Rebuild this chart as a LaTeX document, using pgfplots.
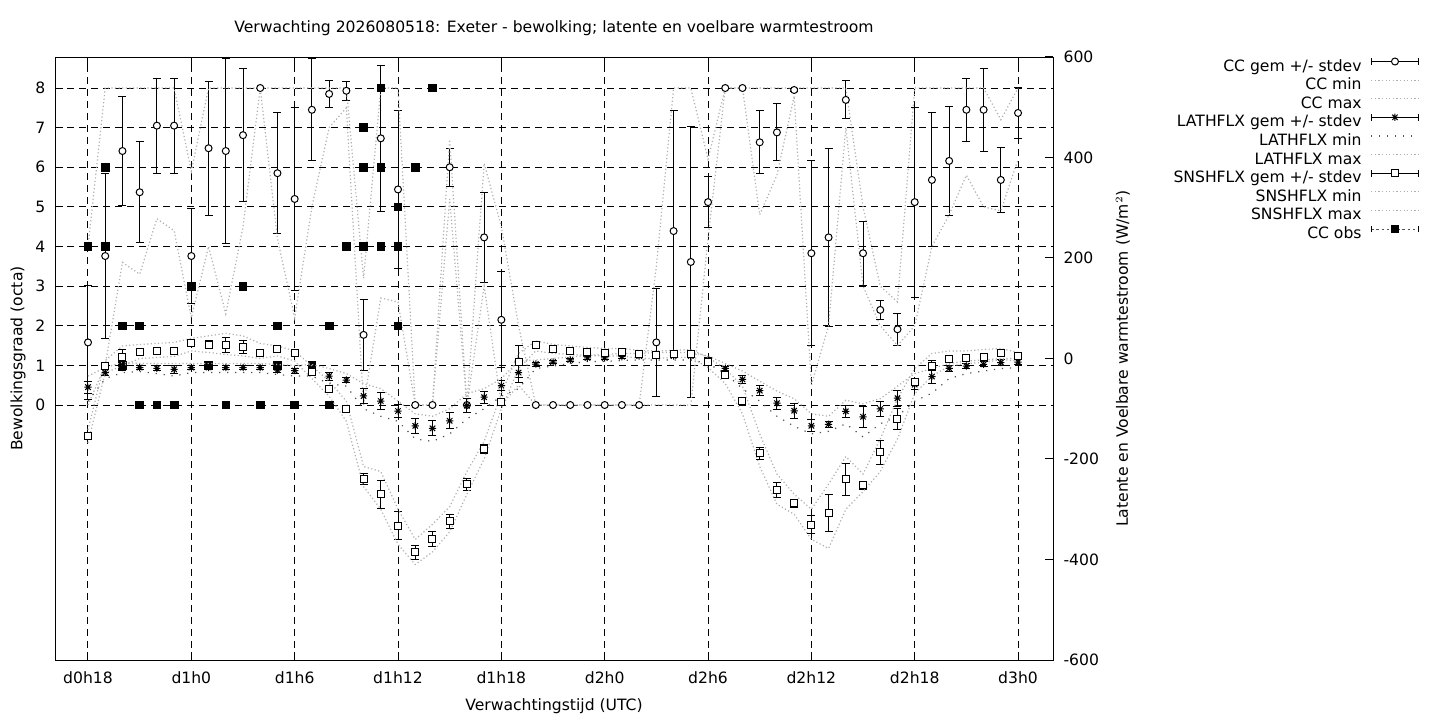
\documentclass[border=0pt]{standalone}
\usepackage{fontspec}
\setmainfont{DejaVu Sans}
\usepackage{pgfplots}
\usepackage{pgfplotstable}
\pgfplotsset{compat=1.18}

\definecolor{lgrey}{RGB}{175,175,175}
\definecolor{dgrey}{RGB}{80,80,80}

% gnuplot style asterisk: + and x on top of each other
\pgfdeclareplotmark{gpast}{%
  \pgfpathmoveto{\pgfqpoint{-\pgfplotmarksize}{0pt}}\pgfpathlineto{\pgfqpoint{\pgfplotmarksize}{0pt}}%
  \pgfpathmoveto{\pgfqpoint{0pt}{-\pgfplotmarksize}}\pgfpathlineto{\pgfqpoint{0pt}{\pgfplotmarksize}}%
  \pgfpathmoveto{\pgfqpoint{-.75\pgfplotmarksize}{-.75\pgfplotmarksize}}\pgfpathlineto{\pgfqpoint{.75\pgfplotmarksize}{.75\pgfplotmarksize}}%
  \pgfpathmoveto{\pgfqpoint{-.75\pgfplotmarksize}{.75\pgfplotmarksize}}\pgfpathlineto{\pgfqpoint{.75\pgfplotmarksize}{-.75\pgfplotmarksize}}%
  \pgfusepathqstroke}

% hour after d0h18, cloud cover mean, stdev, min, max (octa)
\pgfplotstableread{
h  cc   ccsd ccmin ccmax
0  1.58 1.44 0   4
1  3.76 2.09 1   8
2  6.41 1.37 3.6 8
3  5.37 1.27 3.3 8
4  7.05 1.20 4.7 8
5  7.05 1.20 4.4 8
6  3.76 1.20 2.2 5.9
7  6.48 1.69 4.0 8
8  6.41 2.33 2.3 8
9  6.81 1.68 4.5 8
10 8.00 0    8   8
11 5.85 1.52 4.2 8
12 5.20 2.32 2.2 8
13 7.45 1.29 5.0 8
14 7.85 0.33 7.0 8
15 7.93 0.24 7.5 8
16 1.77 0.89 0   3.2
17 6.73 1.85 2.7 8
18 5.44 2.00 2.6 8
19 0    0    0   0
20 0    0    0   0
21 6.00 0.48 5.2 6.7
22 0    0    0   0
23 4.23 1.13 3.0 6.1
24 2.15 1.21 0   4.5
25 1.10 0.40 0.5 2.0
26 0    0    0   0
27 0    0    0   0
28 0    0    0   0
29 0    0    0   0
30 0    0    0   0
31 0    0    0   0
32 0    0    0   0
33 1.58 1.36 0   3.5
34 4.39 3.04 0   8
35 3.61 3.42 0   8
36 5.12 0.64 4.2 6.2
37 8.00 0    8   8
38 8.00 0    8   8
39 6.63 0.79 4.8 8
40 6.88 0.72 5.8 8
41 7.95 0.05 7.8 8
42 3.83 2.33 0.5 8
43 4.23 2.24 2.0 8
44 7.70 0.48 7.0 8
45 3.83 0.81 3.0 5.0
46 2.40 0.25 2.0 3.0
47 1.91 0.40 1.5 2.6
48 5.12 2.40 2.0 8
49 5.68 1.69 4.0 8
50 6.16 1.37 4.8 8
51 7.45 0.80 5.8 8
52 7.45 1.04 5.0 8
53 5.68 0.81 4.9 7.2
54 7.37 0.64 6.2 8
}\cctab

% latent (lh) and sensible (sh) heat flux, W/m2
\pgfplotstableread{
h  lh     lhsd lhmin lhmax sh     shsd shmin shmax
0  -57    12   -85   -35   -155   6    -168  -142
1  -28    6    -40   -18   -14    5    -28   -4
2  -18    5    -28   -8    3.6    15   -15   25
3  -18    4    -26   -10   13.5   5    0     28
4  -19.6  5    -30   -10   15     4    2     30
5  -21.5  8    -35   -10   15     4    4     32
6  -18    4    -28   -10   31     4    15    40
7  -18    4    -28   -10   27.5   8.5  12    45
8  -18    4    -28   -10   27.5   14.6 8     50
9  -18    4    -28   -10   23.5   13   5     45
10 -18    4    -28   -10   10.3   4    0     30
11 -23    5    -32   -12   19.5   5    5     25
12 -24    5    -35   -14   10     4    -5    15
13 -22    5    -35   -12   -27.5  4    -40   -15
14 -35    8    -50   -20   -60.7  4    -75   -45
15 -43    5    -55   -30   -100.5 5    -125  -85
16 -74.6  14   -100  -50   -240   11   -255  -215
17 -84.6  16   -115  -60   -270   28   -300  -225
18 -104.5 12   -125  -85   -333   28   -370  -300
19 -134   15   -160  -110  -386   14   -410  -360
20 -139   15   -165  -115  -360   15   -385  -330
21 -124   16   -150  -100  -324   14   -345  -295
22 -94    14   -120  -70   -250   12   -270  -225
23 -77    12   -100  -60   -181   9    -200  -165
24 -54    10   -75   -40   -86.6  5    -100  -70
25 -28    20   -60   -5    -6     5    -20   10
26 -11    4    -20   -3    26     4    15    35
27 -7     3    -15   0     18     3    10    28
28 -3     3    -10   3     15     3    8     25
29 1      3    -6    6     13     3    6     22
30 1      3    -6    8     11     3    5     20
31 3.6    3    -4    10    12     3    5     20
32 5      3    -3    10    8      3    0     16
33 5      3    -3    12    7      3    0     15
34 5      3    -3    12    9      3    2     16
35 5      3    -3    12    9      3    2     18
36 -3     4    -10   5     -7     4    -18   2
37 -19.6  4    -30   -10   -33    4    -50   -20
38 -41.5  8    -60   -25   -85    4    -110  -55
39 -64    10   -85   -45   -189   12   -215  -150
40 -89    12   -115  -65   -262   15   -290  -230
41 -104   15   -135  -80   -288   8    -310  -270
42 -134   12   -150  -110  -331   18   -360  -300
43 -131   6    -145  -115  -308   37   -378  -250
44 -105   12   -130  -83   -240   32   -300  -195
45 -116   21   -156  -90   -252   8    -265  -230
46 -100.5 14   -130  -80   -187   23   -225  -160
47 -79    16   -115  -55   -120   21   -160  -80
48 -52    10   -85   -30   -47    6    -70   -20
49 -36    13   -69   -20   -14    10   -35   10
50 -19.6  6    -40   -10   -1     4    -15   15
51 -15    5    -30   -5    0      4    -10   15
52 -11.7  5    -25   -3    3.6    4    -8    18
53 -8     5    -20   0     10     4    -2    20
54 -7     5    -18   0     4      4    -5    12
}\fluxtab

% observed cloud cover (octa)
\pgfplotstableread{
h  obs
0  4
1  6
1  4
2  2
2  1
3  2
3  0
4  0
5  0
6  3
7  1
8  0
9  3
10 0
11 2
11 1
12 0
13 1
14 2
14 0
15 4
16 7
16 6
16 4
17 8
17 6
17 4
18 5
18 4
18 2
19 6
20 8
}\obstab

\pgfplotsset{
  gemplot/.style={only marks, black, line width=0.5bp,
    error bars/y dir=both, error bars/y explicit,
    error bars/error bar style={black, line width=0.5bp},
    error bars/error mark options={rotate=90, black, line width=0.5bp, mark size=2bp}},
  minmax/.style={no marks, lgrey, line width=0.6bp, dash pattern=on 0.6bp off 1.2bp},
}

\newcommand{\gemleg}[2]{%
  \draw[black,line width=0.5bp] (0bp,2.6bp)--(23.8bp,2.6bp) (0bp,0.9bp)--(0bp,4.3bp) (23.8bp,0.9bp)--(23.8bp,4.3bp);
  \draw[black,line width=0.5bp] plot[mark=#1, mark size=#2, mark options={fill=white}] coordinates {(11.9bp,2.6bp)};}
\newcommand{\lineleg}[2]{\draw[#1,line width=0.6bp,dash pattern=#2] (0bp,2.6bp)--(23.8bp,2.6bp);}

\begin{document}
\fontsize{7.8bp}{9.4bp}\selectfont
\begin{tikzpicture}
\useasboundingbox (0,0) rectangle (720bp,360bp);

\begin{axis}[
  at={(27.5bp,30bp)}, anchor=south west,
  width=499bp, height=301.5bp, scale only axis,
  xmin=-1.916, xmax=56.03, ymin=-6.435, ymax=8.782,
  xtick={0,6,...,54},
  xticklabels={d0h18,d1h0,d1h6,d1h12,d1h18,d2h0,d2h6,d2h12,d2h18,d3h0},
  ytick={0,1,...,8},
  ytick pos=left,
  tick align=inside, major tick length=4bp,
  tick style={black, line width=0.5bp},
  axis line style={line width=0.5bp},
  grid=major,
  major grid style={black, line width=0.5bp, dash pattern=on 3.5bp off 2.5bp},
  /pgf/number format/assume math mode=true,
  xticklabel style={yshift=-3bp},
  yticklabel style={xshift=-2bp},
  every axis title shift=0pt,
  title={Verwachting 2026080518: Exeter - bewolking; latente en voelbare warmtestroom},
  title style={at={(axis description cs:0.5,1.048)}, anchor=center, inner sep=0pt},
  xlabel={Verwachtingstijd (UTC)},
  xlabel style={at={(axis description cs:0.5,-0.0763)}, anchor=center, inner sep=0pt},
  ylabel={Bewolkingsgraad (octa)},
  ylabel style={at={(axis description cs:-0.0371,0.5)}, anchor=center, inner sep=0pt},
]
\addplot[gemplot, mark=*, mark size=1.75bp, mark options={fill=white, draw=black, line width=0.5bp}]
  table[x=h, y=cc, y error=ccsd] {\cctab};
\addplot[minmax] table[x=h, y=ccmin] {\cctab};
\addplot[minmax] table[x=h, y=ccmax] {\cctab};
\addplot[only marks, mark=square*, mark size=1.9bp, black] table[x=h, y=obs] {\obstab};
\end{axis}

\begin{axis}[
  at={(27.5bp,30bp)}, anchor=south west,
  width=499bp, height=301.5bp, scale only axis,
  xmin=-1.916, xmax=56.03, ymin=-600, ymax=600,
  hide x axis,
  axis y line*=right,
  ytick={-600,-400,...,600},
  tick align=inside, major tick length=4bp,
  tick style={black, line width=0.5bp},
  axis line style={line width=0.5bp},
  /pgf/number format/assume math mode=true,
  yticklabel style={xshift=2.5bp},
  ylabel={Latente en Voelbare warmtestroom (W/m$^2$)},
  ylabel style={at={(axis description cs:1.0701,0.5)}, anchor=center, inner sep=0pt},
  legend cell align=right, legend plot pos=right,
  legend style={at={(1.3671,0.9993)}, anchor=north east, draw=none, fill=none,
    inner sep=0pt, outer sep=0pt, row sep=0pt,
    nodes={inner sep=0pt, text height=6.8bp, text depth=2.5bp},
    /tikz/every odd column/.style={column sep=4.5bp}},
]
\addlegendimage{legend image code/.code={\gemleg{*}{1.75bp}}}
\addlegendentry{CC gem +/- stdev}
\addlegendimage{legend image code/.code={\lineleg{lgrey}{on 0.6bp off 1.2bp}}}
\addlegendentry{CC min}
\addlegendimage{legend image code/.code={\lineleg{lgrey}{on 0.6bp off 1.2bp}}}
\addlegendentry{CC max}

\addplot[gemplot, mark=gpast, mark size=1.8bp,
  legend image code/.code={\gemleg{gpast}{1.8bp}}]
  table[x=h, y=lh, y error=lhsd] {\fluxtab};
\addlegendentry{LATHFLX gem +/- stdev}
\addplot[no marks, dgrey, line width=0.6bp, dash pattern=on 0.6bp off 3.4bp,
  legend image code/.code={\lineleg{dgrey}{on 0.6bp off 3.4bp}}]
  table[x=h, y=lhmin] {\fluxtab};
\addlegendentry{LATHFLX min}
\addplot[minmax, legend image code/.code={\lineleg{lgrey}{on 0.6bp off 1.2bp}}]
  table[x=h, y=lhmax] {\fluxtab};
\addlegendentry{LATHFLX max}

\addplot[gemplot, mark=square*, mark size=1.75bp, mark options={fill=white, draw=black, line width=0.5bp},
  legend image code/.code={\gemleg{square*}{1.75bp}}]
  table[x=h, y=sh, y error=shsd] {\fluxtab};
\addlegendentry{SNSHFLX gem +/- stdev}
\addplot[minmax, legend image code/.code={\lineleg{lgrey}{on 0.6bp off 1.2bp}}]
  table[x=h, y=shmin] {\fluxtab};
\addlegendentry{SNSHFLX min}
\addplot[minmax, legend image code/.code={\lineleg{lgrey}{on 0.6bp off 1.2bp}}]
  table[x=h, y=shmax] {\fluxtab};
\addlegendentry{SNSHFLX max}

\addlegendimage{legend image code/.code={%
  \draw[dgrey,line width=0.5bp,dash pattern=on 1.2bp off 1.4bp] (0bp,2.6bp)--(23.8bp,2.6bp);
  \draw[black,line width=0.5bp] (0bp,0.9bp)--(0bp,4.3bp) (23.8bp,0.9bp)--(23.8bp,4.3bp);
  \fill[black] (10bp,0.7bp) rectangle (13.8bp,4.5bp);}}
\addlegendentry{CC obs}
\end{axis}
\end{tikzpicture}
\end{document}
